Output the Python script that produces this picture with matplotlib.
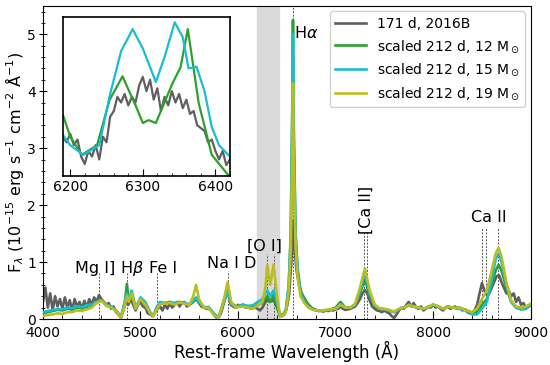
import numpy as np
import matplotlib
matplotlib.use("Agg")
import matplotlib.pyplot as plt
from matplotlib.ticker import MultipleLocator

# observed spectrum, 171 d (2016B)
obs_wave = [
    4000, 4025, 4050, 4075, 4100, 4125, 4150, 4175, 4200, 4225,
    4250, 4275, 4300, 4325, 4350, 4375, 4400, 4425, 4450, 4475,
    4500, 4525, 4550, 4575, 4600, 4625, 4650, 4675, 4700, 4725,
    4750, 4775, 4800, 4825, 4850, 4875, 4900, 4925, 4950, 4975,
    5000, 5025, 5050, 5075, 5100, 5125, 5150, 5175, 5200, 5225,
    5250, 5275, 5300, 5325, 5350, 5375, 5400, 5425, 5450, 5475,
    5500, 5525, 5550, 5575, 5600, 5625, 5650, 5675, 5700, 5725,
    5750, 5775, 5800, 5825, 5850, 5875, 5900, 5925, 5950, 5975,
    6000, 6025, 6050, 6075, 6100, 6125, 6150, 6175, 6200, 6225,
    6250, 6275, 6300, 6325, 6350, 6375, 6400, 6425, 6450, 6475,
    6500, 6525, 6550, 6563, 6575, 6600, 6625, 6650, 6675, 6700, 6725,
    6750, 6775, 6800, 6825, 6850, 6875, 6900, 6925, 6950, 6975,
    7000, 7025, 7050, 7075, 7100, 7125, 7150, 7175, 7200, 7225,
    7250, 7275, 7300, 7325, 7350, 7375, 7400, 7425, 7450, 7475,
    7500, 7525, 7550, 7575, 7600, 7625, 7650, 7675, 7700, 7725,
    7750, 7775, 7800, 7825, 7850, 7875, 7900, 7925, 7950, 7975,
    8000, 8025, 8050, 8075, 8100, 8125, 8150, 8175, 8200, 8225,
    8250, 8275, 8300, 8325, 8350, 8375, 8400, 8425, 8450, 8475,
    8500, 8525, 8550, 8575, 8600, 8625, 8650, 8675, 8700, 8725,
    8750, 8775, 8800, 8825, 8850, 8875, 8900, 8925, 8950, 8975,
    9000]
obs_flux = [
    0.30, 0.55, 0.20, 0.45, 0.15, 0.40, 0.22, 0.35, 0.18, 0.38,
    0.20, 0.33, 0.15, 0.35, 0.22, 0.30, 0.18, 0.32, 0.20, 0.35,
    0.25, 0.38, 0.30, 0.42, 0.35, 0.30, 0.25, 0.28, 0.18, 0.22,
    0.12, 0.08, 0.02, 0.15, 0.30, 0.25, 0.35, 0.25, 0.15, 0.25,
    0.30, 0.22, 0.20, 0.10, 0.08, 0.05, 0.12, 0.18, 0.22, 0.15,
    0.25, 0.18, 0.28, 0.20, 0.25, 0.30, 0.22, 0.28, 0.30, 0.22,
    0.25, 0.28, 0.32, 0.35, 0.28, 0.22, 0.20, 0.18, 0.18, 0.15,
    0.08, 0.03, 0.02, 0.10, 0.25, 0.40, 0.45, 0.25, 0.22, 0.20,
    0.25, 0.22, 0.25, 0.20, 0.22, 0.18, 0.22, 0.20, 0.18, 0.15,
    0.20, 0.28, 0.35, 0.30, 0.33, 0.30, 0.20, 0.10, 0.05, 0.08,
    0.20, 0.45, 1.10, 1.74, 1.30, 0.85, 0.60, 0.45, 0.38, 0.30, 0.25,
    0.20, 0.18, 0.16, 0.14, 0.15, 0.13, 0.15, 0.14, 0.16, 0.15,
    0.17, 0.18, 0.22, 0.18, 0.16, 0.17, 0.18, 0.20, 0.22, 0.28,
    0.35, 0.45, 0.51, 0.45, 0.32, 0.22, 0.18, 0.15, 0.14, 0.12,
    0.15, 0.12, 0.10, 0.05, 0.02, 0.08, 0.15, 0.20, 0.18, 0.25,
    0.30, 0.22, 0.28, 0.20, 0.18, 0.22, 0.15, 0.18, 0.22, 0.20,
    0.25, 0.20, 0.22, 0.18, 0.15, 0.20, 0.22, 0.18, 0.20, 0.22,
    0.18, 0.20, 0.15, 0.17, 0.12, 0.10, 0.12, 0.15, 0.25, 0.45,
    0.63, 0.50, 0.42, 0.45, 0.55, 0.65, 0.75, 0.77, 0.65, 0.55,
    0.45, 0.50, 0.40, 0.45, 0.30, 0.38, 0.25, 0.28, 0.20, 0.22,
    0.25]

# scaled 212 d models
mod_wave = [
    4000, 4050, 4100, 4150, 4200, 4250, 4300, 4350, 4400, 4450,
    4500, 4550, 4600, 4650, 4700, 4750, 4800, 4840, 4861, 4880,
    4910, 4950, 5000, 5050, 5100, 5130, 5170, 5200, 5250, 5300,
    5350, 5400, 5450, 5500, 5540, 5570, 5600, 5650, 5700, 5750,
    5800, 5850, 5893, 5930, 5980, 6050, 6100, 6150, 6200, 6250,
    6280, 6300, 6330, 6364, 6400, 6430, 6460, 6490, 6520, 6540,
    6555, 6563, 6572, 6590, 6610, 6640, 6680, 6720, 6760, 6800,
    6850, 6900, 6950, 7000, 7050, 7100, 7150, 7200, 7250, 7300,
    7350, 7400, 7450, 7500, 7550, 7600, 7650, 7700, 7750, 7800,
    7850, 7900, 7950, 8000, 8050, 8100, 8150, 8200, 8250, 8300,
    8350, 8400, 8450, 8500, 8550, 8600, 8640, 8670, 8700, 8750,
    8800, 8850, 8900, 8950, 9000]
mod_12 = [
    0.10, 0.12, 0.14, 0.16, 0.15, 0.18, 0.17, 0.20, 0.19, 0.22,
    0.24, 0.30, 0.33, 0.25, 0.22, 0.15, 0.03, 0.30, 0.62, 0.30,
    0.45, 0.18, 0.35, 0.28, 0.10, 0.05, 0.20, 0.28, 0.28, 0.30,
    0.27, 0.30, 0.28, 0.25, 0.30, 0.36, 0.28, 0.20, 0.20, 0.10,
    0.02, 0.30, 0.55, 0.28, 0.22, 0.25, 0.22, 0.20, 0.25, 0.28,
    0.35, 0.40, 0.30, 0.42, 0.20, 0.05, 0.06, 0.15, 0.60, 1.50,
    3.60, 5.25, 3.30, 1.50, 0.90, 0.50, 0.35, 0.25, 0.18, 0.15,
    0.14, 0.15, 0.17, 0.20, 0.30, 0.20, 0.20, 0.25, 0.45, 0.70,
    0.40, 0.22, 0.18, 0.17, 0.15, 0.12, 0.17, 0.20, 0.25, 0.22,
    0.20, 0.18, 0.20, 0.25, 0.22, 0.18, 0.22, 0.20, 0.20, 0.18,
    0.15, 0.10, 0.12, 0.25, 0.35, 0.60, 0.85, 0.95, 0.85, 0.55,
    0.30, 0.20, 0.17, 0.18, 0.25]
mod_15 = [
    0.12, 0.14, 0.16, 0.17, 0.17, 0.20, 0.19, 0.22, 0.21, 0.24,
    0.25, 0.30, 0.33, 0.25, 0.22, 0.15, 0.04, 0.30, 0.45, 0.35,
    0.50, 0.20, 0.38, 0.30, 0.12, 0.06, 0.22, 0.30, 0.28, 0.30,
    0.28, 0.30, 0.28, 0.26, 0.32, 0.38, 0.30, 0.21, 0.21, 0.10,
    0.02, 0.28, 0.50, 0.26, 0.22, 0.25, 0.23, 0.24, 0.30, 0.35,
    0.45, 0.50, 0.40, 0.50, 0.30, 0.08, 0.08, 0.15, 0.60, 1.45,
    3.40, 5.00, 3.10, 1.45, 0.85, 0.45, 0.30, 0.22, 0.17, 0.15,
    0.15, 0.15, 0.17, 0.18, 0.26, 0.20, 0.20, 0.25, 0.50, 0.80,
    0.45, 0.24, 0.18, 0.17, 0.15, 0.12, 0.17, 0.20, 0.24, 0.22,
    0.20, 0.18, 0.20, 0.25, 0.22, 0.18, 0.22, 0.20, 0.18, 0.17,
    0.14, 0.08, 0.08, 0.18, 0.30, 0.70, 1.05, 1.15, 1.00, 0.60,
    0.30, 0.20, 0.17, 0.18, 0.25]
mod_19 = [
    0.05, 0.07, 0.08, 0.10, 0.09, 0.12, 0.12, 0.15, 0.14, 0.17,
    0.20, 0.28, 0.32, 0.23, 0.20, 0.14, 0.02, 0.25, 0.40, 0.30,
    0.45, 0.18, 0.35, 0.25, 0.10, 0.05, 0.18, 0.26, 0.27, 0.28,
    0.25, 0.29, 0.27, 0.24, 0.40, 0.60, 0.35, 0.20, 0.19, 0.08,
    0.01, 0.30, 0.65, 0.30, 0.20, 0.22, 0.20, 0.18, 0.24, 0.30,
    0.55, 0.95, 0.60, 0.95, 0.40, 0.06, 0.06, 0.12, 0.50, 1.20,
    2.80, 4.14, 2.60, 1.25, 0.75, 0.40, 0.28, 0.20, 0.17, 0.15,
    0.15, 0.16, 0.17, 0.18, 0.25, 0.20, 0.20, 0.27, 0.55, 0.89,
    0.50, 0.25, 0.19, 0.18, 0.16, 0.13, 0.18, 0.20, 0.25, 0.22,
    0.20, 0.18, 0.21, 0.26, 0.22, 0.18, 0.22, 0.20, 0.20, 0.18,
    0.15, 0.12, 0.18, 0.35, 0.50, 0.85, 1.15, 1.25, 1.10, 0.65,
    0.32, 0.22, 0.20, 0.22, 0.27]

# inset, [O I] region
ins_obs_wave = [
    6190, 6195, 6200, 6205, 6210, 6215, 6220, 6225, 6230, 6235,
    6240, 6245, 6250, 6255, 6260, 6265, 6270, 6275, 6280, 6285,
    6290, 6295, 6300, 6305, 6310, 6315, 6320, 6325, 6330, 6335,
    6340, 6345, 6350, 6355, 6360, 6365, 6370, 6375, 6380, 6385,
    6390, 6395, 6400, 6405, 6410, 6415, 6420]
ins_obs_flux = [
    3.20, 3.10, 3.25, 3.05, 3.15, 2.85, 2.72, 2.95, 2.85, 3.05,
    2.80, 3.20, 3.10, 3.55, 3.65, 3.90, 3.80, 3.95, 3.75, 3.90,
    3.80, 4.10, 4.25, 4.00, 4.20, 3.85, 4.05, 3.65, 3.90, 3.75,
    4.00, 3.80, 3.95, 3.70, 3.85, 3.60, 3.65, 3.40, 3.35, 3.30,
    3.10, 3.15, 2.95, 2.80, 2.95, 2.70, 2.80]
ins_12_wave = [6190, 6200, 6216, 6237, 6254, 6272, 6290, 6300, 6308, 6318,
               6341, 6352, 6362, 6377, 6395, 6420]
ins_12_flux = [3.58, 3.20, 2.88, 3.05, 3.84, 4.26, 3.75, 3.44, 3.49, 3.44,
               4.14, 4.42, 5.09, 3.79, 2.88, 2.49]
ins_15_wave = [6190, 6200, 6218, 6240, 6254, 6270, 6286, 6300, 6318, 6330,
               6344, 6355, 6363, 6374, 6385, 6395, 6405, 6420]
ins_15_flux = [3.23, 3.05, 2.88, 3.05, 3.90, 4.70, 5.09, 4.75, 4.16, 4.60,
               5.21, 4.95, 4.40, 4.43, 4.00, 3.37, 3.05, 2.85]

# line identifications
line_waves = [4571, 4861, 5170, 5893, 6300, 6364, 6563, 7291, 7324, 8498, 8542, 8662]
line_tops = [0.8, 0.8, 0.8, 0.85, 1.15, 1.15, 5.5, 1.55, 1.55, 1.6, 1.6, 1.6]
labels = ["Mg I]", r"H$\beta$", "Fe I", "Na I D", "[O I]", r"H$\alpha$", "Ca II"]
label_x = [4540, 4913, 5235, 5940, 6270, 6700, 8575]
label_y = [0.89, 0.89, 0.89, 0.98, 1.28, 5.03, 1.79]

c_obs = "#5f5f5f"
c12 = "#2ca02c"
c15 = "#17becf"
c19 = "#bcbd22"

fig = plt.figure(figsize=(5.5, 3.65), dpi=100)
ax = fig.add_axes([0.078, 0.126, 0.887, 0.858])

ax.axvspan(6190, 6420, color="#dadada", zorder=0)
for w, t in zip(line_waves, line_tops):
    ax.plot([w, w], [0, t], ls=(0, (2, 1.5)), color="#555555", lw=0.7, zorder=1)

ax.plot(obs_wave, obs_flux, color=c_obs, lw=1.9, label="171 d, 2016B", zorder=2)
ax.plot(mod_wave, mod_12, color=c12, lw=1.9, label=r"scaled 212 d, 12 M$_\odot$", zorder=3)
ax.plot(mod_wave, mod_15, color=c15, lw=1.9, label=r"scaled 212 d, 15 M$_\odot$", zorder=3)
ax.plot(mod_wave, mod_19, color=c19, lw=1.9, label=r"scaled 212 d, 19 M$_\odot$", zorder=3)

for s, x, y in zip(labels, label_x, label_y):
    ax.text(x, y, s, ha="center", va="center", fontsize=11.5)
ax.text(7310, 1.91, "[Ca II]", rotation=90, ha="center", va="center", fontsize=11.5)

ax.set_xlim(4000, 9000)
ax.set_ylim(0, 5.5)
ax.xaxis.set_major_locator(MultipleLocator(1000))
ax.xaxis.set_minor_locator(MultipleLocator(200))
ax.yaxis.set_major_locator(MultipleLocator(1))
ax.yaxis.set_minor_locator(MultipleLocator(0.2))
ax.tick_params(axis="x", which="both", direction="in", labelsize=10, pad=5)
ax.tick_params(axis="y", which="both", direction="inout", labelsize=10, pad=2)
ax.tick_params(which="major", length=6)
ax.tick_params(which="minor", length=3)
ax.set_xlabel("Rest-frame Wavelength (Å)", fontsize=12, labelpad=1)
ax.set_ylabel(r"F$_\lambda$ (10$^{-15}$ erg s$^{-1}$ cm$^{-2}$ Å$^{-1}$)", fontsize=11.5, labelpad=1)
ax.legend(loc="upper right", fontsize=10, framealpha=0.9, borderaxespad=0.4,
          handlelength=2.2)

ins = fig.add_axes([0.1145, 0.518, 0.3035, 0.435])
ins.plot(ins_obs_wave, ins_obs_flux, color=c_obs, lw=1.6)
ins.plot(ins_12_wave, ins_12_flux, color=c12, lw=1.6)
ins.plot(ins_15_wave, ins_15_flux, color=c15, lw=1.6)
ins.set_xlim(6190, 6420)
ins.set_ylim(2.51, 5.30)
ins.set_yticks([])
ins.xaxis.set_major_locator(MultipleLocator(100))
ins.xaxis.set_minor_locator(MultipleLocator(20))
ins.tick_params(axis="x", which="both", direction="in", labelsize=10, pad=3)
ins.tick_params(which="major", length=5)
ins.tick_params(which="minor", length=2.5)
for sp in ins.spines.values():
    sp.set_linewidth(1.2)

fig.savefig("out.png", dpi=100)
